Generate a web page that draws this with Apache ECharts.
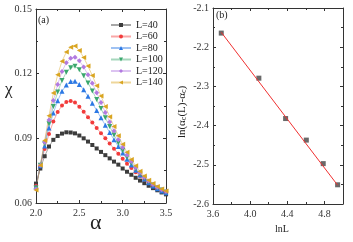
<!DOCTYPE html>
<html><head><meta charset="utf-8">
<script src="https://cdn.jsdelivr.net/npm/echarts@6/dist/echarts.min.js"></script>
<style>html,body{margin:0;padding:0;background:#fff}#c{width:353px;height:242px}</style>
</head><body><div id="c"></div>
<script>
const alphaVals = [2.00,2.05,2.10,2.15,2.20,2.25,2.30,2.35,2.40,2.45,2.50,2.55,2.60,2.65,2.70,2.75,2.80,2.85,2.90,2.95,3.00,3.05,3.10,3.15,3.20,3.25,3.30,3.35,3.40,3.45,3.50];
const chiL40  = [0.0690,0.0760,0.0817,0.0862,0.0893,0.0911,0.0922,0.0928,0.0927,0.0923,0.0913,0.0900,0.0885,0.0869,0.0853,0.0837,0.0822,0.0807,0.0792,0.0778,0.0760,0.0745,0.0731,0.0717,0.0704,0.0692,0.0680,0.0669,0.0659,0.0649,0.0640];
const chiL60  = [0.0680,0.0770,0.0850,0.0920,0.0978,0.1022,0.1052,0.1069,0.1073,0.1066,0.1047,0.1023,0.0998,0.0973,0.0948,0.0924,0.0900,0.0876,0.0852,0.0828,0.0805,0.0782,0.0762,0.0743,0.0725,0.0709,0.0694,0.0680,0.0667,0.0656,0.0645];
const chiL80  = [0.0675,0.0773,0.0865,0.0948,0.1018,0.1074,0.1118,0.1148,0.1164,0.1165,0.1150,0.1125,0.1095,0.1063,0.1029,0.0995,0.0961,0.0927,0.0894,0.0862,0.0832,0.0803,0.0776,0.0752,0.0730,0.0711,0.0694,0.0679,0.0666,0.0656,0.0648];
const chiL100 = [0.0670,0.0775,0.0875,0.0968,0.1048,0.1115,0.1168,0.1206,0.1228,0.1234,0.1218,0.1190,0.1157,0.1120,0.1080,0.1038,0.0996,0.0955,0.0916,0.0878,0.0844,0.0812,0.0784,0.0758,0.0735,0.0715,0.0698,0.0683,0.0670,0.0660,0.0651];
const chiL120 = [0.0665,0.0775,0.0882,0.0985,0.1075,0.1150,0.1210,0.1251,0.1272,0.1276,0.1260,0.1231,0.1195,0.1155,0.1112,0.1066,0.1020,0.0976,0.0934,0.0894,0.0857,0.0823,0.0792,0.0765,0.0741,0.0720,0.0702,0.0686,0.0673,0.0662,0.0653];
const chiL140 = [0.0660,0.0775,0.0890,0.1005,0.1110,0.1195,0.1258,0.1300,0.1322,0.1328,0.1308,0.1275,0.1235,0.1191,0.1144,0.1096,0.1048,0.1000,0.0955,0.0912,0.0872,0.0835,0.0802,0.0773,0.0747,0.0725,0.0706,0.0690,0.0676,0.0665,0.0656];
const seriesNames = ['L=40','L=60','L=80','L=100','L=120','L=140'];
const lnL   = [3.689,4.094,4.382,4.605,4.787,4.942];
const lnDiff= [-2.164,-2.279,-2.382,-2.437,-2.497,-2.551];
const fitX  = [3.689,4.942];
const fitY  = [-2.162,-2.552];

const chiAll = [chiL40,chiL60,chiL80,chiL100,chiL120,chiL140];
const colors = ['#3c3c3c','#f23b3b','#2b78e4','#3aa76d','#b27ae0','#d9a521'];
const symbols = ['rect','circle','triangle','path://M0,0L10,0L5,9Z','diamond','path://M9,0L9,10L0,5Z'];
const symSizes = [4,4,5,5,5,5];
const font = '"Liberation Serif", "Times New Roman", serif';

function axisCommon(){
  return {
    axisLine:{show:true,lineStyle:{color:'#333',width:1}},
    axisTick:{show:true,inside:true,length:3,lineStyle:{color:'#333'}},
    minorTick:{show:true,splitNumber:2,length:2,lineStyle:{color:'#333'}},
    splitLine:{show:false},
    axisLabel:{fontFamily:font,fontSize:10,color:'#333'}
  };
}
function mirror(base, pos){
  const a = axisCommon();
  a.axisLabel = {show:false};
  return Object.assign({}, base, a, {position:pos});
}

const x0 = Object.assign(axisCommon(), {gridIndex:0,type:'value',min:2.0,max:3.5,interval:0.5});
x0.axisLabel = Object.assign(x0.axisLabel,{margin:5,formatter:v=>v.toFixed(1)});
const y0 = Object.assign(axisCommon(), {gridIndex:0,type:'value',min:0.06,max:0.15,interval:0.03});
y0.axisLabel = Object.assign(y0.axisLabel,{margin:4,formatter:v=>v.toFixed(2)});
const x1 = Object.assign(axisCommon(), {gridIndex:1,type:'value',min:3.6,max:5.0,interval:0.4});
x1.axisLabel = Object.assign(x1.axisLabel,{margin:5,showMaxLabel:false,formatter:v=>v.toFixed(1)});
const y1 = Object.assign(axisCommon(), {gridIndex:1,type:'value',min:-2.6,max:-2.1,interval:0.1});
y1.axisLabel = Object.assign(y1.axisLabel,{margin:4,formatter:v=>v.toFixed(1)});

const series = chiAll.map((arr,k)=>({
  name:seriesNames[k], type:'line', xAxisIndex:0, yAxisIndex:0,
  data:alphaVals.map((a,i)=>[a,arr[i]]),
  symbol:symbols[k], symbolSize:symSizes[k], showSymbol:true,
  itemStyle:{color:colors[k]},
  lineStyle:{color:colors[k],width:1,opacity:0.45},
  animation:false
}));
series.push({
  type:'line', xAxisIndex:2, yAxisIndex:2,
  data:fitX.map((x,i)=>[x,fitY[i]]),
  symbol:'none', lineStyle:{color:'#f03030',width:1}, animation:false
});
series.push({
  type:'scatter', xAxisIndex:2, yAxisIndex:2,
  data:lnL.map((x,i)=>[x,lnDiff[i]]),
  symbol:'rect', symbolSize:5, itemStyle:{color:'#444'}, animation:false
});

const option = {
  backgroundColor:'#fff',
  animation:false,
  grid:[
    {left:36,top:9,width:130,height:194},
    {left:213,top:8,width:130,height:196}
  ],
  xAxis:[x0, mirror({gridIndex:0,type:'value',min:2.0,max:3.5,interval:0.5},'top'),
         x1, mirror({gridIndex:1,type:'value',min:3.6,max:5.0,interval:0.4},'top')],
  yAxis:[y0, mirror({gridIndex:0,type:'value',min:0.06,max:0.15,interval:0.03},'right'),
         y1, mirror({gridIndex:1,type:'value',min:-2.6,max:-2.1,interval:0.1},'right')],
  legend:{
    orient:'vertical', left:105, top:15, itemWidth:20, itemHeight:5, itemGap:1.5,
    data:seriesNames,
    textStyle:{fontFamily:font,fontSize:10,color:'#222',lineHeight:10}
  },
  series:series,
  graphic:[
    {type:'text',left:38,top:15,style:{text:'(a)',font:'10px '+font,fill:'#222'}},
    {type:'text',left:216,top:10,style:{text:'(b)',font:'10px '+font,fill:'#222'}},
    {type:'text',left:5,top:81,style:{text:'χ',font:'17px '+font,fill:'#222'}},
    {type:'text',left:90,top:212,style:{text:'α',font:'22px '+font,fill:'#222'}},
    {type:'text',left:275,top:224,style:{text:'lnL',font:'10px '+font,fill:'#222'}},
    {type:'text',x:182,y:112,rotation:Math.PI/2,style:{
      text:'{n|ln(α}{s|c}{n|(L)-α}{s|c}{n|)}',align:'center',verticalAlign:'middle',
      rich:{n:{fontFamily:font,fontSize:11,fill:'#222'},s:{fontFamily:font,fontSize:8,fill:'#222',verticalAlign:'bottom',padding:[4,0,0,0]}}
    }}
  ]
};
const chart = echarts.init(document.getElementById('c'),null,{renderer:'canvas'});
chart.setOption(option);
</script></body></html>
